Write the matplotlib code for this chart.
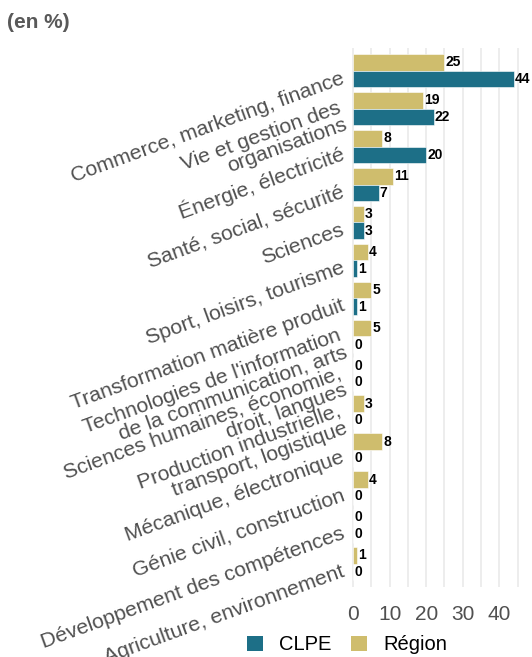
import matplotlib
matplotlib.use("Agg")
import matplotlib.pyplot as plt
from matplotlib.transforms import ScaledTranslation
from matplotlib.patches import Patch
import numpy as np

plt.rcParams['font.family'] = ['Liberation Sans', 'DejaVu Sans']

categories = [
    "Commerce, marketing, finance",
    "Vie et gestion des\norganisations",
    "Énergie, électricité",
    "Santé, social, sécurité",
    "Sciences",
    "Sport, loisirs, tourisme",
    "Transformation matière produit",
    "Technologies de l'information\nde la communication, arts",
    "Sciences humaines, économie,\ndroit, langues",
    "Production industrielle,\ntransport, logistique",
    "Mécanique, électronique",
    "Génie civil, construction",
    "Développement des compétences",
    "Agriculture, environnement",
]
region = [25, 19, 8, 11, 3, 4, 5, 5, 0, 3, 8, 4, 0, 1]
clpe = [44, 22, 20, 7, 3, 1, 1, 0, 0, 0, 0, 0, 0, 0]
series_names = ["CLPE", "Région"]
xticks = [0, 10, 20, 30, 40]

TEAL = "#1d6f87"
GOLD = "#cfbd6d"
TXT = "#505050"

fig = plt.figure(figsize=(5.32, 6.57), dpi=100)
ax = fig.add_axes([345/532, 1 - 586.5/657, 177/532, (586.5 - 48)/657])

y = np.arange(len(categories))
h = 0.44
ax.barh(y - h/2, region, height=h, color=GOLD, edgecolor="white", linewidth=0.4, zorder=3)
ax.barh(y + h/2, clpe, height=h, color=TEAL, edgecolor="white", linewidth=0.4, zorder=3)

for yi, v in zip(y - h/2, region):
    ax.text(v + 0.3, yi, str(v), va="center", ha="left", fontsize=10,
            fontweight="bold", color="black", zorder=4)
for yi, v in zip(y + h/2, clpe):
    ax.text(v + 0.3, yi, str(v), va="center", ha="left", fontsize=10,
            fontweight="bold", color="black", zorder=4)

ax.set_xlim(-2.2, 46.2)
ax.set_ylim(len(categories) - 1 + 0.6, -0.6)

ax.set_xticks(xticks)
ax.set_xticks([5, 15, 25, 35, 45], minor=True)
ax.set_xticklabels([str(t) for t in xticks], fontsize=15, color=TXT)
ax.tick_params(axis="x", which="both", length=0, pad=13)
ax.grid(axis="x", which="both", color="#e8e8e8", linewidth=1.1, zorder=0)
ax.grid(axis="y", visible=False)

ax.set_yticks(y)
ax.set_yticklabels(categories, fontsize=15.3, color=TXT, rotation=20,
                   ha="right", va="center", rotation_mode="anchor",
                   linespacing=0.95)
ax.tick_params(axis="y", length=0, pad=1)
offset = ScaledTranslation(0, -5/72, fig.dpi_scale_trans)
for lab in ax.get_yticklabels():
    lab.set_transform(lab.get_transform() + offset)

for s in ax.spines.values():
    s.set_visible(False)

handles = [Patch(facecolor=TEAL, edgecolor="none"),
           Patch(facecolor=GOLD, edgecolor="none")]
fig.legend(handles, series_names, loc="center", ncol=2, frameon=False,
           bbox_to_anchor=(347/532, 1 - 645/657), fontsize=14.5,
           handlelength=0.8, handleheight=0.8, handletextpad=0.8,
           columnspacing=1.0, labelcolor="black")

fig.text(7/532, 1 - 22/657, "(en %)", fontsize=15, fontweight="bold",
         color="#595959", ha="left", va="center")

fig.savefig("out.png", dpi=100)
